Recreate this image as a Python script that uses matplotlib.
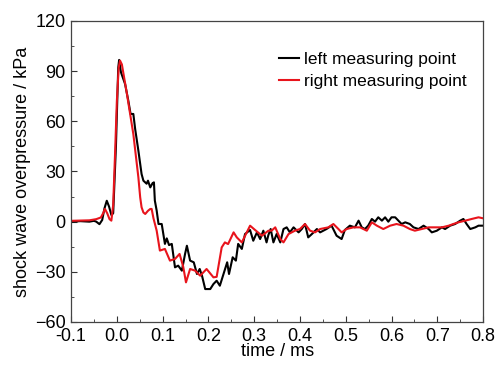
import matplotlib.pyplot as plt
from matplotlib.ticker import MultipleLocator

plt.rcParams['font.family'] = ['Liberation Sans', 'DejaVu Sans']

# left measuring point (time in ms, overpressure in kPa)
t_left = [-0.100, -0.080, -0.060, -0.050, -0.045, -0.038, -0.032, -0.027, -0.022, -0.017,
          -0.012, -0.008, -0.002, 0.003, 0.005, 0.009, 0.018, 0.025, 0.030, 0.036,
          0.040, 0.047, 0.054, 0.058, 0.065, 0.068, 0.073, 0.078, 0.081, 0.083,
          0.087, 0.091, 0.098, 0.105, 0.109, 0.114, 0.120, 0.127, 0.134, 0.142, 0.149,
          0.153, 0.160, 0.168, 0.175, 0.181, 0.186, 0.193, 0.204, 0.211, 0.218,
          0.225, 0.233, 0.241, 0.245, 0.253, 0.260, 0.265, 0.273, 0.280, 0.291,
          0.298, 0.306, 0.313, 0.320, 0.327, 0.331, 0.336, 0.342, 0.349, 0.357,
          0.364, 0.371, 0.378, 0.386, 0.397, 0.404, 0.411, 0.418, 0.426, 0.437,
          0.444, 0.458, 0.469, 0.480, 0.491, 0.498, 0.509, 0.520, 0.528, 0.535,
          0.542, 0.549, 0.557, 0.564, 0.571, 0.579, 0.586, 0.593, 0.600, 0.608,
          0.615, 0.622, 0.630, 0.640, 0.648, 0.659, 0.670, 0.681, 0.688, 0.699,
          0.710, 0.717, 0.728, 0.739, 0.750, 0.757, 0.764, 0.772, 0.783, 0.790,
          0.800]
p_left = [0, 0.3, 0, 0.5, 0, -1.5, 1, 8, 12.5, 9,
          4, 5, 45, 92, 96.7, 89.3, 82.3, 72.4, 64.4, 64.4,
          55.4, 42.5, 28.5, 24.5, 22.7, 24.5, 20.5, 23, 23.5, 12.6,
          6.6, -1.4, -1.4, -13.3, -10, -14, -13.3, -27.3, -26.3, -29.3, -19.3,
          -14.4, -23.3, -24.3, -31.3, -28.3, -32.3, -40.3, -40.3, -37.3, -35.3,
          -38.3, -31.3, -24.3, -31.3, -21.3, -23.3, -13.3, -16.3, -7.4, -5,
          -11.4, -6.4, -10.4, -5.4, -12.4, -8, -4.4, -12.4, -7.4, -12.4,
          -4.4, -3.4, -6.4, -3.4, -6.4, -4.4, -1.4, -9.4, -7.4, -4.4,
          -6.4, -4.4, -2.4, -8.4, -10.4, -5, -2.4, -3.4, 0.6, -3.4,
          -4.4, -2.4, 1.6, 0, 2.6, 0.6, 2.6, 0, 2.6, 2.6,
          0.6, -1.4, -0.4, -1.4, -3.4, -4.4, -2.4, -4.4, -6.4, -5.4,
          -3.4, -4.4, -2.4, -1.4, 0.6, 1.6, -1.4, -4.4, -3.4, -2.4,
          -2.4]

# right measuring point
t_right = [-0.100, -0.060, -0.045, -0.035, -0.030, -0.026, -0.021, -0.016, -0.012, -0.008,
           -0.004, 0.000, 0.004, 0.007, 0.011, 0.022, 0.036, 0.047, 0.051, 0.054,
           0.058, 0.062, 0.068, 0.073, 0.076, 0.080, 0.087, 0.094, 0.105, 0.116,
           0.127, 0.137, 0.145, 0.151, 0.160, 0.171, 0.182, 0.196, 0.211, 0.218,
           0.229, 0.236, 0.243, 0.255, 0.262, 0.273, 0.291, 0.302, 0.317, 0.331,
           0.338, 0.346, 0.357, 0.364, 0.375, 0.389, 0.400, 0.411, 0.422, 0.433,
           0.444, 0.462, 0.473, 0.484, 0.491, 0.502, 0.517, 0.531, 0.546, 0.557,
           0.568, 0.582, 0.597, 0.611, 0.626, 0.640, 0.651, 0.666, 0.681, 0.695,
           0.710, 0.725, 0.735, 0.746, 0.761, 0.775, 0.790, 0.800]
p_right = [0.5, 0.8, 1.5, 2.5, 5, 7.6, 5, 1.5, 0.6, 10,
           40, 72, 92, 96.3, 94, 76.4, 52.4, 26.5, 14.5, 8.6,
           5.5, 4.6, 6.5, 7.6, 7.6, 2, -5.4, -17.3, -16.3, -23.3,
           -22.3, -19.3, -27, -36.3, -28.3, -29.3, -32.3, -28.3, -33.3, -33,
           -15.4, -12.4, -13.4, -6.4, -9.4, -12.4, -2.4, -5, -8.4, -5.4,
           -5.4, -3.4, -10.4, -12.4, -7.4, -5.4, -4.4, -1.4, -5.4, -6.4,
           -4.4, -3.4, -1.4, -4.4, -6.4, -4.4, -3.4, -3.4, -5.4, -0.4,
           -2.4, -4.4, -2.4, -1.4, -2.4, -4.4, -5.4, -4.4, -3.4, -3.4,
           -3.4, -2.4, -1.4, -0.4, 0.6, 1.6, 2.6, 2]

fig = plt.figure(figsize=(4.97, 3.68), dpi=100)
ax = fig.add_axes([0.143, 0.125, 0.829, 0.818])

ax.plot(t_left, p_left, color='black', linewidth=1.5, label='left measuring point')
ax.plot(t_right, p_right, color='#e8141c', linewidth=1.5, label='right measuring point')

ax.set_xlim(-0.1, 0.8)
ax.set_ylim(-60, 120)
ax.xaxis.set_major_locator(MultipleLocator(0.1))
ax.xaxis.set_minor_locator(MultipleLocator(0.05))
ax.yaxis.set_major_locator(MultipleLocator(30))
ax.yaxis.set_minor_locator(MultipleLocator(15))
ax.tick_params(which='both', direction='in', labelsize=13, colors='#333333', labelcolor='black')
ax.tick_params(which='major', length=4)
ax.tick_params(which='minor', length=2.5)
ax.tick_params(axis='x', pad=4)
ax.tick_params(axis='y', pad=4)
ax.set_xticklabels([f'{v:.1f}' for v in ax.get_xticks()])
for s in ax.spines.values():
    s.set_color('#444444')
    s.set_linewidth(0.9)

ax.set_xlabel('time / ms', fontsize=13, labelpad=-1)
ax.set_ylabel('shock wave overpressure / kPa', fontsize=13, labelpad=3)

ax.legend(loc='upper left', frameon=False, fontsize=12.5, handlelength=1.15,
          handletextpad=0.3, labelspacing=0.38, borderpad=0, borderaxespad=0,
          bbox_to_anchor=(0.505, 0.897))

plt.savefig('out.png', dpi=100)
